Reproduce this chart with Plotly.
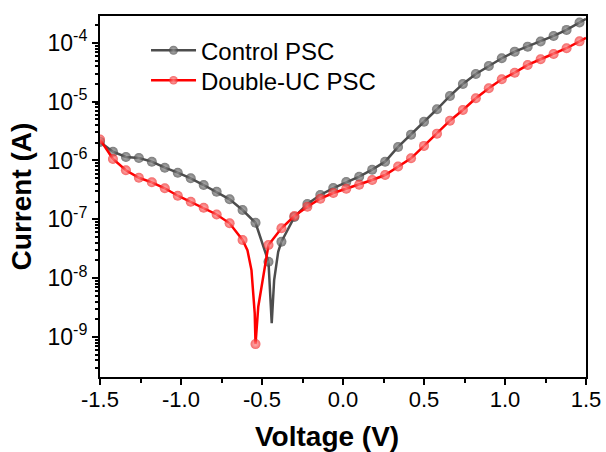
import plotly.graph_objects as go

# Voltage (V) for each series; marker flag 1 = marker shown, 0 = line-only point
control_v = [-1.50, -1.42, -1.34, -1.26, -1.18, -1.10, -1.02, -0.94, -0.86, -0.78,
             -0.70, -0.62, -0.54, -0.46, -0.44, -0.425, -0.40, -0.38, -0.30, -0.22,
             -0.14, -0.06, 0.02, 0.10, 0.18, 0.26, 0.34, 0.42, 0.50, 0.58,
             0.66, 0.74, 0.82, 0.90, 0.98, 1.06, 1.14, 1.22, 1.30, 1.38, 1.46, 1.50]
control_i = [2.07e-6, 1.41e-6, 1.15e-6, 1.10e-6, 9.55e-7, 7.55e-7, 6.21e-7, 4.98e-7, 3.83e-7, 2.94e-7,
             2.19e-7, 1.44e-7, 8.75e-8, 1.90e-8, 1.72e-9, 9.3e-9, 2.81e-8, 4.16e-8, 1.10e-7, 1.82e-7,
             2.59e-7, 3.40e-7, 4.31e-7, 5.30e-7, 6.98e-7, 9.55e-7, 1.70e-6, 2.75e-6, 4.57e-6, 7.43e-6,
             1.25e-5, 2.00e-5, 2.96e-5, 4.05e-5, 5.47e-5, 7.08e-5, 8.61e-5, 1.05e-4, 1.31e-4, 1.66e-4, 2.22e-4, 2.55e-4]
control_mk = [1, 1, 1, 1, 1, 1, 1, 1, 1, 1,
              1, 1, 1, 1, 0, 0, 0, 1, 1, 1,
              1, 1, 1, 1, 1, 1, 1, 1, 1, 1,
              1, 1, 1, 1, 1, 1, 1, 1, 1, 1, 1, 0]

uc_v = [-1.50, -1.42, -1.34, -1.26, -1.18, -1.10, -1.02, -0.94, -0.86, -0.78,
        -0.70, -0.62, -0.59, -0.565, -0.545, -0.54, -0.523, -0.48, -0.46, -0.38,
        -0.30, -0.22, -0.14, -0.06, 0.02, 0.10, 0.18, 0.26, 0.34, 0.42,
        0.50, 0.58, 0.66, 0.74, 0.82, 0.90, 0.98, 1.06, 1.14, 1.22,
        1.30, 1.38, 1.46, 1.50]
uc_i = [2.28e-6, 1.06e-6, 6.81e-7, 5.09e-7, 4.26e-7, 3.37e-7, 2.52e-7, 1.99e-7, 1.57e-7, 1.21e-7,
        8.55e-8, 4.45e-8, 3.0e-8, 1.37e-8, 2.55e-9, 7.57e-10, 3.27e-9, 1.56e-8, 3.66e-8, 7.03e-8,
        1.14e-7, 1.64e-7, 2.24e-7, 2.80e-7, 3.31e-7, 3.87e-7, 4.66e-7, 5.66e-7, 7.90e-7, 1.09e-6,
        1.77e-6, 2.86e-6, 4.75e-6, 7.23e-6, 1.14e-5, 1.69e-5, 2.40e-5, 3.11e-5, 4.21e-5, 5.26e-5,
        6.47e-5, 8.09e-5, 1.06e-4, 1.21e-4]
uc_mk = [1, 1, 1, 1, 1, 1, 1, 1, 1, 1,
         1, 1, 0, 0, 0, 1, 0, 0, 1, 1,
         1, 1, 1, 1, 1, 1, 1, 1, 1, 1,
         1, 1, 1, 1, 1, 1, 1, 1, 1, 1,
         1, 1, 1, 0]

x_ticks = [-1.5, -1.0, -0.5, 0.0, 0.5, 1.0, 1.5]
x_ticktext = ["-1.5", "-1.0", "-0.5", "0.0", "0.5", "1.0", "1.5"]
x_minor = [-1.25, -0.75, -0.25, 0.25, 0.75, 1.25]
y_exps = [-9, -8, -7, -6, -5, -4]

FONT = "Arial, Liberation Sans, sans-serif"
MS = 10

fig = go.Figure()
fig.add_trace(go.Scatter(
    x=control_v, y=control_i, mode="lines+markers", name="Control PSC",
    legend="legend",
    line=dict(color="#4d4d4d", width=2.5),
    marker=dict(size=[MS * m for m in control_mk], color="#444444",
                line=dict(width=0), gradient=dict(type="radial", color="#9a9a9a")),
))
fig.add_trace(go.Scatter(
    x=uc_v, y=uc_i, mode="lines+markers", name="Double-UC PSC",
    legend="legend2",
    line=dict(color="#ff0000", width=2.5),
    marker=dict(size=[MS * m for m in uc_mk], color="#f02828",
                line=dict(width=0), gradient=dict(type="radial", color="#ff9a9a")),
))

y_ticks = [10.0 ** e for e in y_exps]
y_ticktext = ["10<sup>%d</sup>" % e for e in y_exps]
y_minor = [k * 10.0 ** e for e in range(-10, -3) for k in range(2, 10)]

leg_common = dict(xanchor="left", yanchor="middle", itemwidth=45,
                  bgcolor="rgba(0,0,0,0)", font=dict(size=24, family=FONT))

fig.update_layout(
    width=606, height=452,
    margin=dict(l=100, r=20, t=16, b=75, autoexpand=False),
    plot_bgcolor="white", paper_bgcolor="white",
    font=dict(family=FONT, size=22, color="black"),
    showlegend=True,
    legend=dict(x=0.0947, y=0.904, **leg_common),
    legend2=dict(x=0.0947, y=0.821, **leg_common),
    xaxis=dict(range=[-1.5, 1.5], tickmode="array", tickvals=x_ticks, ticktext=x_ticktext,
               automargin=False, ticklabelstandoff=-4,
               ticks="outside", ticklen=6, tickwidth=2, tickcolor="black",
               showline=True, linewidth=2, linecolor="black", mirror=True,
               showgrid=False, zeroline=False,
               minor=dict(tickmode="array", tickvals=x_minor, ticks="outside", ticklen=4,
                          tickwidth=2, tickcolor="black", showgrid=False),
               tickfont=dict(size=22)),
    yaxis=dict(type="log", range=[-9.68, -3.544], tickmode="array", tickvals=y_ticks,
               ticktext=y_ticktext, automargin=False,
               ticks="outside", ticklen=6, tickwidth=2, tickcolor="black",
               showline=True, linewidth=2, linecolor="black", mirror=True,
               showgrid=False, zeroline=False,
               minor=dict(tickmode="array", tickvals=y_minor, ticks="outside", ticklen=3,
                          tickwidth=1.5, tickcolor="black", showgrid=False),
               tickfont=dict(size=23),
               title=dict(text="<b>Current (A)</b>", font=dict(size=28), standoff=8)),
    annotations=[dict(text="<b>Voltage (V)</b>", xref="paper", yref="paper",
                      x=0.467, y=-0.165, xanchor="center", yanchor="middle",
                      showarrow=False, font=dict(size=28, family=FONT))],
)

fig.write_html("out.html")
